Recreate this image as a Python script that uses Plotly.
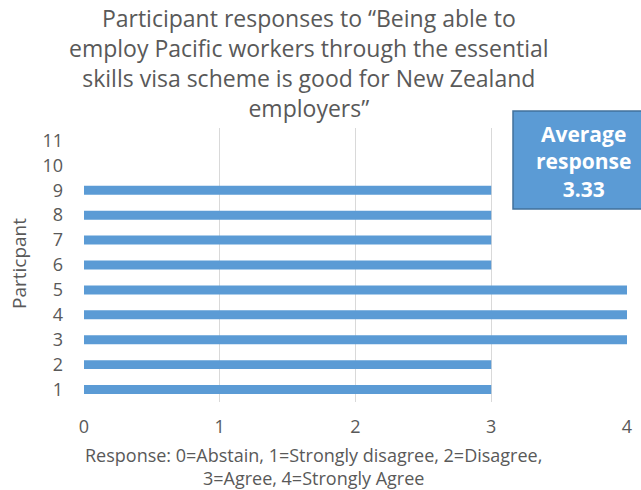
import plotly.graph_objects as go

# Survey responses per participant (0=Abstain ... 4=Strongly Agree)
participants = [1, 2, 3, 4, 5, 6, 7, 8, 9]
responses = [3, 3, 4, 4, 4, 3, 3, 3, 3]
y_ticks = list(range(1, 12))
x_ticks = [0, 1, 2, 3, 4]

average = sum(responses) / len(responses)

BAR = "#5B9BD5"
TEXT = "#595959"
GRID = "#D9D9D9"
FONT = "Open Sans"

W, H = 641, 490
L, R, T, B = 84, 14, 128, 88
pw, ph = W - L - R, H - T - B


def px_x(p):
    return (p - L) / pw


def px_y(p):
    return (H - B - p) / ph


fig = go.Figure(
    go.Bar(
        x=responses,
        y=participants,
        orientation="h",
        marker=dict(color=BAR, line=dict(width=0)),
        width=0.36,
    )
)

title_text = ("Participant responses to \u201cBeing able to<br>"
              "employ Pacific workers through the essential<br>"
              "skills visa scheme is good for New Zealand<br>"
              "employers\u201d")
x_title_text = ("Response: 0=Abstain, 1=Strongly disagree, 2=Disagree,<br>"
                "3=Agree, 4=Strongly Agree")

annotations = [
    dict(
        text=title_text, xref="paper", yref="paper",
        x=px_x(309), y=px_y(63), align="center",
        xanchor="center", yanchor="middle", showarrow=False,
        font=dict(family=FONT, size=23, color=TEXT),
    ),
    dict(
        text=x_title_text, xref="paper", yref="paper",
        x=px_x(313), y=px_y(466), align="center",
        xanchor="center", yanchor="middle", showarrow=False,
        font=dict(family=FONT, size=18, color=TEXT),
    ),
    dict(
        text="Particpant", xref="paper", yref="paper",
        x=px_x(19), y=px_y(264), textangle=-90,
        xanchor="center", yanchor="middle", showarrow=False,
        font=dict(family=FONT, size=19, color=TEXT),
    ),
    # Average response callout text
    dict(
        text=f"<b>Average<br>response<br>{average:.2f}</b>",
        xref="paper", yref="paper",
        x=px_x(583), y=px_y(161), align="center",
        xanchor="center", yanchor="middle", showarrow=False,
        font=dict(family=FONT, size=21, color="white"),
    ),
]

# Average response callout box
fig.add_shape(
    type="rect", xref="paper", yref="paper",
    x0=px_x(513), x1=px_x(645), y0=px_y(209), y1=px_y(111),
    fillcolor=BAR, line=dict(color="#41719C", width=1.5), layer="above",
)

fig.update_layout(
    width=W, height=H,
    margin=dict(l=L, r=R, t=T, b=B, autoexpand=False),
    paper_bgcolor="white", plot_bgcolor="white",
    showlegend=False,
    annotations=annotations,
    xaxis=dict(
        range=[0, 4], tickvals=x_ticks, showgrid=True, gridcolor=GRID,
        gridwidth=1, zeroline=False, showline=False, ticks="",
        tickfont=dict(family=FONT, size=18, color=TEXT), ticklabelstandoff=12,
    ),
    yaxis=dict(
        range=[0.5, 11.5], tickvals=y_ticks, showgrid=False, zeroline=False,
        showline=False, ticks="",
        tickfont=dict(family=FONT, size=18, color=TEXT), ticklabelstandoff=20,
    ),
)

fig.write_html("out.html")
